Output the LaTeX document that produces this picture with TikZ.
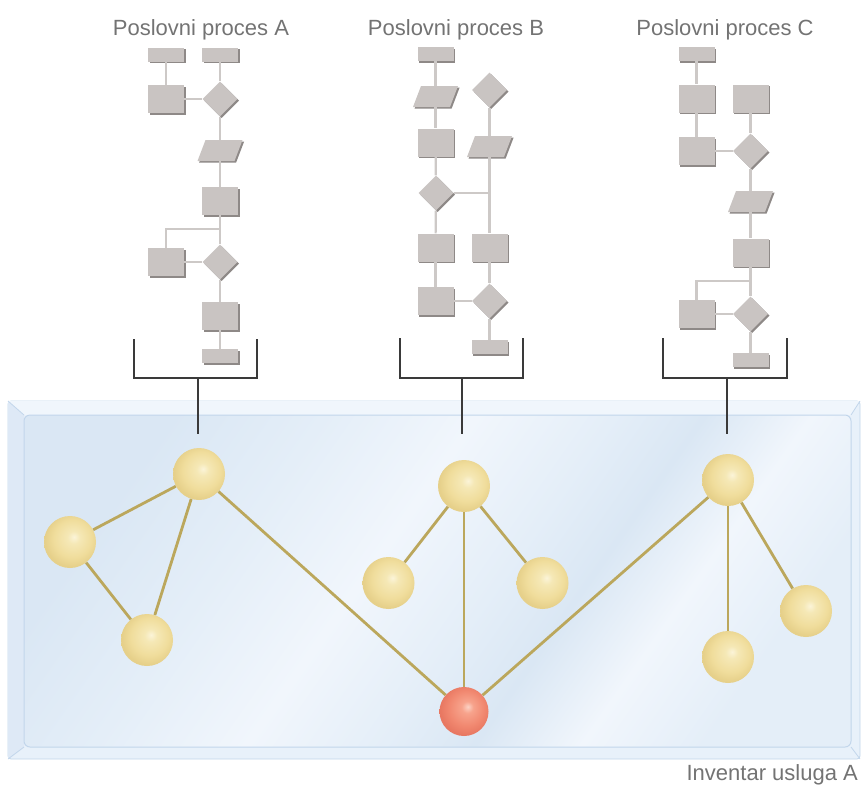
\documentclass[tikz,border=0pt]{standalone}
\usepackage{fontspec}
\setmainfont{Liberation Sans}
\usetikzlibrary{shapes.geometric,shadows,calc}
\definecolor{txtgray}{HTML}{737373}
\definecolor{fcfill}{HTML}{C9C4C2}
\definecolor{fcshadow}{HTML}{8E8987}
\definecolor{fcline}{HTML}{CDC9C7}
\definecolor{brk}{HTML}{3A3A3A}
\definecolor{edgegold}{HTML}{BBA75C}
\definecolor{yhi}{HTML}{FBF4D8}
\definecolor{ymid}{HTML}{F5E8B6}
\definecolor{ybase}{HTML}{F0DD9C}
\definecolor{yedge}{HTML}{E6D08A}
\definecolor{rhi}{HTML}{FCD2C4}
\definecolor{rmid}{HTML}{F7A38C}
\definecolor{rbase}{HTML}{F18870}
\definecolor{redge}{HTML}{E87862}
\definecolor{pA}{HTML}{DAE7F4}
\definecolor{pB}{HTML}{E4EEF8}
\definecolor{pW}{HTML}{F1F6FC}
\definecolor{outerfill}{HTML}{E8F1FA}
\definecolor{topbev}{HTML}{F0F6FC}
\definecolor{leftbev}{HTML}{DEE9F6}
\definecolor{edgeblue}{HTML}{C2D6EB}
\pgfdeclareradialshading{yball}{\pgfqpoint{4bp}{5bp}}{color(0bp)=(yhi); color(6bp)=(ymid); color(18bp)=(ybase); color(26bp)=(yedge); color(50bp)=(yedge)}
\pgfdeclareradialshading{rball}{\pgfqpoint{4bp}{5bp}}{color(0bp)=(rhi); color(6bp)=(rmid); color(18bp)=(rbase); color(26bp)=(redge); color(50bp)=(redge)}
\pgfdeclarehorizontalshading{panelsh}{100bp}{color(0bp)=(pA); color(25bp)=(pA); color(35bp)=(pB); color(45bp)=(pW); color(54bp)=(pB); color(60bp)=(pA); color(67bp)=(pW); color(75bp)=(pB); color(100bp)=(pB)}
\newcommand\mypara[1]{%
  \fill[fcshadow] ([shift={(-20.9,12.1)}]#1.center) -- ++(37,0) -- ++(8,-21) -- ++(-37,0) -- cycle;
  \fill[fcfill] ([shift={(-22.5,10.5)}]#1.center) -- ++(37,0) -- ++(8,-21) -- ++(-37,0) -- cycle;}
\begin{document}
\begin{tikzpicture}[x=1pt,y=-1pt,
  title/.style={font=\fontsize{22}{26}\selectfont, text=txtgray, inner sep=0pt},
  fcshad/.style={drop shadow={shadow xshift=1.6pt, shadow yshift=-1.6pt, fill=fcshadow, opacity=1}},
  procbox/.style={rectangle, fill=fcfill, minimum width=36pt, minimum height=28pt, inner sep=0pt, fcshad},
  procsmall/.style={rectangle, fill=fcfill, minimum width=36pt, minimum height=14pt, inner sep=0pt, fcshad},
  procdiamond/.style={diamond, fill=fcfill, minimum width=35pt, minimum height=35pt, inner sep=0pt, fcshad},
  procpara/.style={rectangle, minimum width=37pt, minimum height=21pt, inner sep=0pt},
  fcconn/.style={draw=fcline, line width=2.2pt},
  bracketline/.style={draw=brk, line width=1.5pt},
  ysph/.style={circle, minimum size=52pt, inner sep=0pt, shading=yball},
  rsph/.style={circle, minimum size=49pt, inner sep=0pt, shading=rball},
  edge/.style={draw=edgegold, line width=2.8pt}]
\useasboundingbox (0,0) rectangle (861,790);
% ---------- panel ----------
\path[fill=outerfill, draw=edgeblue, line width=0.8pt, rounded corners=3pt] (8,401) rectangle (860,759);
\fill[topbev] (8,401) -- (860,401) -- (851,415) -- (24,415) -- cycle;
\fill[leftbev] (8,401) -- (24,415) -- (24,747) -- (8,759) -- cycle;
\shade[shading=panelsh, shading angle=-35, draw=edgeblue, line width=1pt, rounded corners=6pt] (24,415) rectangle (851,747);
\draw[edgeblue, line width=0.8pt] (8,401) -- (24,415) (860,401) -- (851,415) (8,759) -- (24,747) (860,759) -- (851,747);
% ---------- titles ----------
\node[title, anchor=base] (tA) at (201,35) {Poslovni proces A};
\node[title, anchor=base] (tB) at (456,35) {Poslovni proces B};
\node[title, anchor=base] (tC) at (725,35) {Poslovni proces C};
\node[title, anchor=base east] (tI) at (858,780) {Inventar usluga A};
% ---------- flowchart A ----------
\node[procsmall] (A1) at (166,54.5) {};
\node[procsmall] (A2) at (220,54.5) {};
\node[procbox] (A3) at (166,99) {};
\node[procdiamond] (A4) at (220,99) {};
\node[procpara] (A5) at (220,150.5) {}; \mypara{A5}
\node[procbox] (A6) at (220,201) {};
\node[procbox] (A7) at (166,262) {};
\node[procdiamond] (A8) at (220,262) {};
\node[procbox] (A9) at (220,316) {};
\node[procsmall] (A10) at (220,356) {};
\draw[fcconn] (A1) -- (A3);
\draw[fcconn] (A2) -- (A4);
\draw[fcconn] (A3) -- (A4);
\draw[fcconn] (A4) -- (A5);
\draw[fcconn] (A5) -- (A6);
\draw[fcconn] (A6) -- (A8);
\coordinate (Ab) at (220,229);
\draw[fcconn] (Ab) -| (A7.north);
\draw[fcconn] (A7) -- (A8);
\draw[fcconn] (A8) -- (A9);
\draw[fcconn] (A9) -- (A10);
% ---------- flowchart B ----------
\node[procsmall] (B1) at (435.5,54) {};
\node[procpara] (B2) at (435.5,96.5) {}; \mypara{B2}
\node[procdiamond] (B3) at (489.5,90) {};
\node[procbox] (B4) at (435.5,142.5) {};
\node[procpara] (B5) at (489.5,146.5) {}; \mypara{B5}
\node[procdiamond] (B6) at (436,193) {};
\node[procbox] (B7) at (435.5,247.5) {};
\node[procbox] (B8) at (489.5,247.5) {};
\node[procbox] (B9) at (435.5,301) {};
\node[procdiamond] (B10) at (489.5,301) {};
\node[procsmall] (B11) at (489.5,347) {};
\draw[fcconn] (B1) -- (B2);
\draw[fcconn] (B2) -- (B4);
\draw[fcconn] (B4) -- (B6);
\draw[fcconn] (B6) -- (B7);
\draw[fcconn] (B7) -- (B9);
\draw[fcconn] (B3) -- (B5);
\draw[fcconn] (B5) -- (B8);
\draw[fcconn] (B8) -- (B10);
\draw[fcconn] (B10) -- (B11);
\draw[fcconn] (B9) -- (B10);
\draw[fcconn] (B6.east) -- (B6.east -| B8.north);
% ---------- flowchart C ----------
\node[procsmall] (C1) at (696.5,54) {};
\node[procbox] (C2) at (696.5,98.5) {};
\node[procbox] (C3) at (750.5,98.5) {};
\node[procbox] (C4) at (696.5,151) {};
\node[procdiamond] (C5) at (750.5,151) {};
\node[procpara] (C6) at (750.5,201.5) {}; \mypara{C6}
\node[procbox] (C7) at (750.5,252.5) {};
\node[procbox] (C8) at (696.5,314) {};
\node[procdiamond] (C9) at (750.5,314) {};
\node[procsmall] (C10) at (750.5,360) {};
\draw[fcconn] (C1) -- (C2);
\draw[fcconn] (C2) -- (C4);
\draw[fcconn] (C4) -- (C5);
\draw[fcconn] (C3) -- (C5);
\draw[fcconn] (C5) -- (C6);
\draw[fcconn] (C6) -- (C7);
\draw[fcconn] (C7) -- (C9);
\coordinate (Cb) at (750.5,281);
\draw[fcconn] (Cb) -| (C8.north);
\draw[fcconn] (C8) -- (C9);
\draw[fcconn] (C9) -- (C10);
% ---------- brackets ----------
\coordinate (bAl) at (134,339); \coordinate (bAr) at (257,339); \coordinate (bAm) at (198,378); \coordinate (sA) at (198,434);
\coordinate (bBl) at (400,338); \coordinate (bBr) at (523,338); \coordinate (bBm) at (462,378); \coordinate (sB) at (462,434);
\coordinate (bCl) at (663,338); \coordinate (bCr) at (787,338); \coordinate (bCm) at (727,378); \coordinate (sC) at (727,434);
\draw[bracketline] (bAl) |- (bAr |- bAm) -- (bAr);
\draw[bracketline] (bAm) -- (sA);
\draw[bracketline] (bBl) |- (bBr |- bBm) -- (bBr);
\draw[bracketline] (bBm) -- (sB);
\draw[bracketline] (bCl) |- (bCr |- bCm) -- (bCr);
\draw[bracketline] (bCm) -- (sC);
% ---------- service graph ----------
\node[ysph] (a1) at (199,474) {};
\node[ysph] (a2) at (70,542) {};
\node[ysph] (a3) at (147,640) {};
\node[ysph] (b1) at (464,486) {};
\node[ysph] (b2) at (388.5,583) {};
\node[ysph] (b3) at (542.5,583) {};
\node[ysph] (c1) at (728,480) {};
\node[ysph] (c2) at (728,657) {};
\node[ysph] (c3) at (806,611) {};
\node[rsph] (r) at (464,711.5) {};
\draw[edge] (a1) -- (a2);
\draw[edge] (a1) -- (a3);
\draw[edge] (a2) -- (a3);
\draw[edge] (a1) -- (r);
\draw[edge] (b1) -- (b2);
\draw[edge] (b1) -- (b3);
\draw[edge] (b1) -- (r);
\draw[edge] (r) -- (c1);
\draw[edge] (c1) -- (c2);
\draw[edge] (c1) -- (c3);
\end{tikzpicture}
\end{document}
